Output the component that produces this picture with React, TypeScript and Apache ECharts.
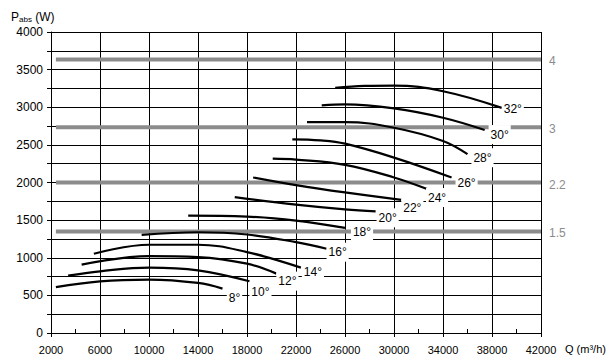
import React, { useEffect, useRef } from 'react';
import * as echarts from 'echarts';

// Blade angle curves: [Q (m3/h), Pabs (W)]
const angleLabels = ['8°', '10°', '12°', '14°', '16°', '18°', '20°', '22°', '24°', '26°', '28°', '30°', '32°'];
const curve8 = [[2400, 610], [6000, 687], [10000, 710], [14000, 665], [16000, 590]];
const curve10 = [[3400, 763], [6000, 820], [10000, 869], [14000, 833], [18200, 687]];
const curve12 = [[4500, 908], [10000, 1022], [14000, 1009], [18000, 921], [20400, 789]];
const curve14 = [[5500, 1054], [10000, 1173], [14000, 1173], [18000, 1075], [22400, 869]];
const curve16 = [[9400, 1305], [14000, 1339], [18000, 1309], [22000, 1207], [24500, 1120]];
const curve18 = [[13200, 1560], [18000, 1547], [22000, 1494], [26000, 1398]];
const curve20 = [[17000, 1805], [22000, 1706], [26000, 1643], [28500, 1617]];
const curve22 = [[18500, 2067], [22000, 1966], [26000, 1868], [30600, 1768]];
const curve24 = [[20100, 2318], [22000, 2305], [26000, 2235], [30000, 2067], [32700, 1913]];
const curve26 = [[21700, 2574], [24000, 2560], [26000, 2516], [30000, 2331], [34700, 2067]];
const curve28 = [[22900, 2803], [26000, 2803], [30000, 2728], [34000, 2552], [36000, 2376]];
const curve30 = [[24100, 3024], [26000, 3037], [30000, 2984], [34000, 2860], [37400, 2697]];
const curve32 = [[25200, 3257], [27600, 3285], [30000, 3288], [34000, 3213], [38800, 2992]];
const curves = [curve8, curve10, curve12, curve14, curve16, curve18, curve20, curve22, curve24, curve26, curve28, curve30, curve32];

// Motor power levels (kW) drawn as grey horizontal bands
const powerLevels = [3635, 2735, 2000, 1350];
const powerLabels = ['4', '3', '2.2', '1.5'];
const powerStartQ = 2400;
const powerEndQ = 42000;

// Axis ranges
const xMin = 2000;
const xMax = 42000;
const yMin = 0;
const yMax = 4000;
const xAxisTitle = 'Q (m³/h)';

// Label placement (px offsets of label centre from curve end)
const labelOffsets = [[12, 11], [11, 12], [11, 9], [12, 6], [11, 5], [17, 6], [12, 8], [11, 10], [10, 10], [15, 7], [15, 5], [15, 6], [11, 3]];

const FONT = '"Liberation Sans", Arial, sans-serif';

export default function App() {
  const ref = useRef<HTMLDivElement>(null);
  useEffect(() => {
    if (!ref.current) return;
    const chart = echarts.init(ref.current, null, { renderer: 'svg' });
    const powerSeries = powerLevels.map((p, i) => ({
      type: 'line',
      name: 'P' + powerLabels[i],
      data: [[powerStartQ, p], [powerEndQ, p]],
      symbol: 'none',
      z: 2,
      silent: true,
      lineStyle: { color: '#8c8c8c', width: 4 },
      endLabel: {
        show: true,
        formatter: powerLabels[i],
        distance: 8,
        offset: [0, 2],
        color: '#8c8c8c',
        fontSize: 12,
        fontFamily: FONT,
      },
    }));
    const curveSeries = curves.map((c, i) => ({
      type: 'line',
      name: angleLabels[i],
      data: c,
      symbol: 'none',
      smooth: 0.4,
      z: 4,
      silent: true,
      lineStyle: { color: '#000', width: 2.2 },
      endLabel: {
        show: true,
        formatter: angleLabels[i],
        align: 'center',
        distance: 0,
        offset: [labelOffsets[i][0], labelOffsets[i][1] - 1.5],
        color: '#000',
        fontSize: 12,
        fontFamily: FONT,
        backgroundColor: '#fff',
        padding: [5, 2, 2, 2],
      },
    }));
    chart.setOption({
      animation: false,
      backgroundColor: '#fff',
      title: {
        text: '{p|P}{s|abs}{p| (W)}',
        left: 6,
        top: 3,
        textStyle: {
          fontWeight: 'normal',
          rich: {
            p: { fontSize: 12, fontFamily: FONT, color: '#000', fontWeight: 'normal', lineHeight: 15, verticalAlign: 'bottom' },
            s: { fontSize: 8, fontFamily: FONT, color: '#000', fontWeight: 'normal', lineHeight: 9, verticalAlign: 'bottom' },
          },
        },
      },
      graphic: [
        {
          type: 'text',
          left: 565,
          top: 343,
          silent: true,
          style: { text: xAxisTitle, fontSize: 11, fontFamily: FONT, fill: '#000' },
        },
      ],
      grid: { left: 51, right: 71, top: 32, bottom: 29, containLabel: false },
      xAxis: [
        {
          type: 'value',
          min: xMin,
          max: xMax,
          interval: 4000,
          axisLine: { show: true, lineStyle: { color: '#000', width: 1 } },
          axisTick: { show: true, length: 4, lineStyle: { color: '#000' } },
          axisLabel: { fontSize: 11, fontFamily: FONT, color: '#000', margin: 11, formatter: (v: number) => String(v) },
          splitLine: { show: true, lineStyle: { color: '#000', width: 1 } },
        },
        {
          type: 'value',
          position: 'bottom',
          min: xMin,
          max: xMax,
          interval: 2000,
          axisLine: { show: false },
          axisTick: { show: true, inside: true, length: 4, lineStyle: { color: '#000' } },
          axisLabel: { show: false },
          splitLine: { show: false },
        },
      ],
      yAxis: {
        type: 'value',
        min: yMin,
        max: yMax,
        interval: 250,
        axisLine: { show: true, lineStyle: { color: '#000', width: 1 } },
        axisTick: { show: true, length: 4, lineStyle: { color: '#000' } },
        axisLabel: {
          fontSize: 12,
          fontFamily: FONT,
          color: '#000',
          margin: 8,
          formatter: (v: number) => (v % 500 === 0 ? String(v) : ''),
        },
        splitLine: { show: true, lineStyle: { color: '#000', width: 1 } },
      },
      series: [...powerSeries, ...curveSeries],
    });
    return () => chart.dispose();
  }, []);
  return (
    <div
      ref={ref}
      style={{ position: 'fixed', left: 0, top: 0, width: 612, height: 362, background: '#fff' }}
    />
  );
}
